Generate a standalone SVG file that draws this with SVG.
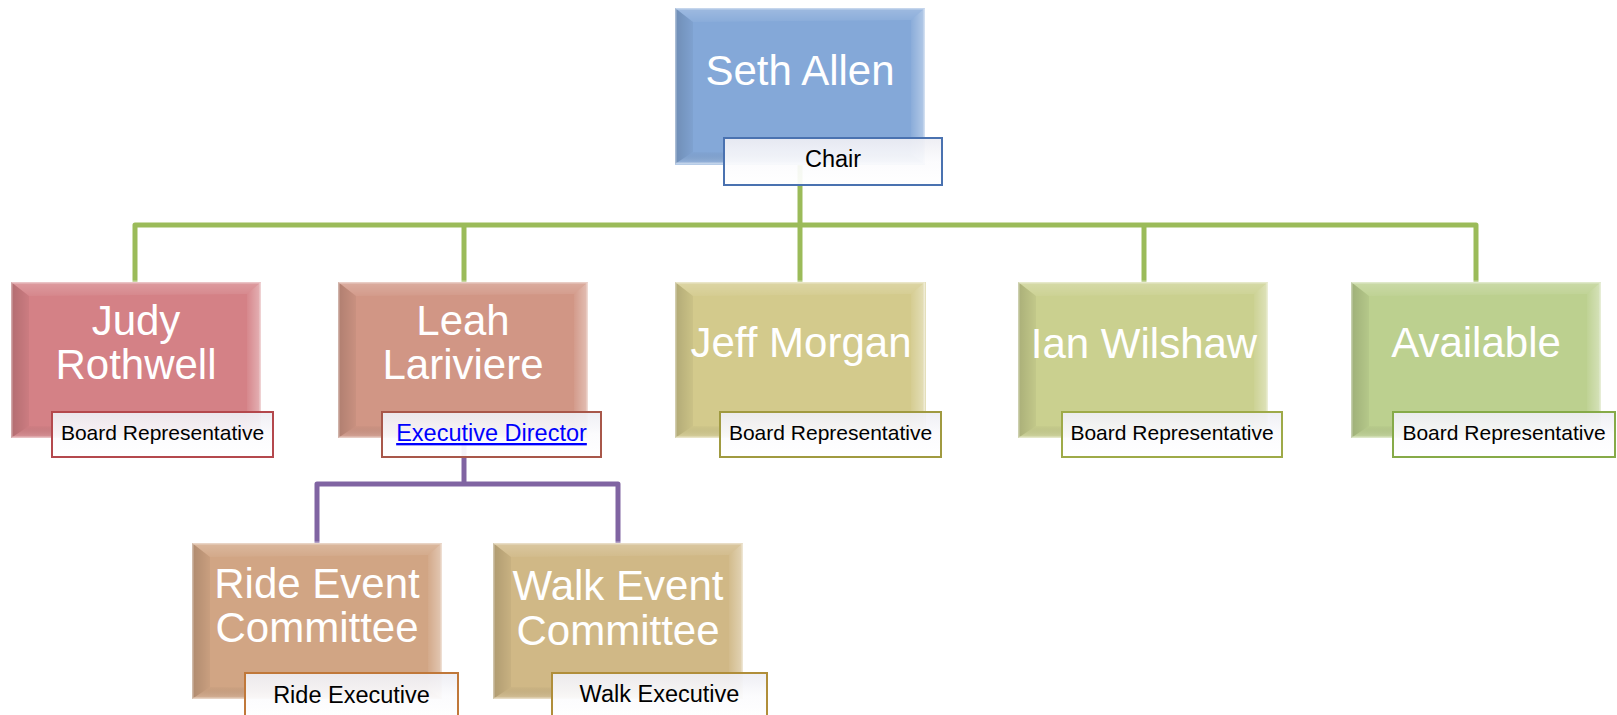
<svg xmlns="http://www.w3.org/2000/svg" xmlns:xlink="http://www.w3.org/1999/xlink" width="1617" height="715" viewBox="0 0 1617 715">
<style>
.nm{font-family:"Liberation Sans",Arial,sans-serif;font-size:42px;fill:#fff;text-anchor:middle}
.lb{font-family:"Liberation Sans",Arial,sans-serif;font-size:23.5px;fill:#000;text-anchor:middle}
.br{font-size:21px}
.lnk{fill:#0000FF;text-decoration:underline}
.lab{fill:url(#gLab);fill-opacity:0.93;stroke-width:2}
.gc{fill:none;stroke:#9BBB59;stroke-width:5;stroke-linejoin:round}
.pc{fill:none;stroke:#8064A2;stroke-width:5;stroke-linejoin:round}
</style>
<defs>
<linearGradient id="gL" x1="0" y1="0" x2="1" y2="0"><stop offset="0" stop-color="#000" stop-opacity="0.16"/><stop offset="1" stop-color="#000" stop-opacity="0.04"/></linearGradient>
<linearGradient id="gR" x1="0" y1="0" x2="1" y2="0"><stop offset="0" stop-color="#fff" stop-opacity="0.05"/><stop offset="1" stop-color="#fff" stop-opacity="0.4"/></linearGradient>
<linearGradient id="gT" x1="0" y1="0" x2="0" y2="1"><stop offset="0" stop-color="#fff" stop-opacity="0.22"/><stop offset="1" stop-color="#fff" stop-opacity="0.05"/></linearGradient>
<linearGradient id="gB" x1="0" y1="0" x2="0" y2="1"><stop offset="0" stop-color="#000" stop-opacity="0.02"/><stop offset="1" stop-color="#fff" stop-opacity="0.2"/></linearGradient>
<linearGradient id="gLab" x1="0" y1="0" x2="0" y2="1"><stop offset="0" stop-color="#EDEDF3"/><stop offset="0.5" stop-color="#FBFBFD"/><stop offset="1" stop-color="#FFFFFF"/></linearGradient>
<g id="bevel">
<polygon points="0,0 250,0 236,12 18,14" fill="url(#gT)"/>
<polygon points="0,0 18,14 18,144 0,156" fill="url(#gL)"/>
<polygon points="250,0 250,156 236,146 236,12" fill="url(#gR)"/>
<polygon points="0,156 18,144 236,146 250,156" fill="url(#gB)"/>
<rect x="0" y="0" width="250" height="156" fill="none" stroke="#fff" stroke-opacity="0.4" stroke-width="3"/>
</g>
</defs>
<rect width="1617" height="715" fill="#fff"/>
<g id="connectors">
<path class="gc" d="M135,282 V225 H1476 V282"/>
<path class="gc" d="M800,165 V282"/>
<path class="gc" d="M464,225 V282"/>
<path class="gc" d="M1144,225 V282"/>
<path class="pc" d="M464,440 V484"/>
<path class="pc" d="M317,543 V484 H618 V543"/>
</g>
<g id="seth">
<rect x="675" y="8" width="250" height="157" fill="#84A8D8"/>
<use href="#bevel" x="675" y="8"/>
<text class="nm" x="800" y="85">Seth Allen</text>
<rect class="lab" x="724" y="138" width="218" height="47" stroke="#4A72B0"/>
<text class="lb" x="833" y="167">Chair</text>
</g>
<g id="judy">
<rect x="11" y="282" width="250" height="156" fill="#D48186"/>
<use href="#bevel" x="11" y="282"/>
<text class="nm" x="136" y="335">Judy</text>
<text class="nm" x="136" y="379">Rothwell</text>
<rect class="lab" x="52" y="412" width="221" height="45" stroke="#B4484D"/>
<text class="lb br" x="162.5" y="440">Board Representative</text>
</g>
<g id="leah">
<rect x="338" y="282" width="250" height="156" fill="#D19685"/>
<use href="#bevel" x="338" y="282"/>
<text class="nm" x="463" y="335">Leah</text>
<text class="nm" x="463" y="379">Lariviere</text>
<rect class="lab" x="382" y="412" width="219" height="45" stroke="#A8574A"/>
<text class="lb lnk" x="491.5" y="441">Executive Director</text>
</g>
<g id="jeff">
<rect x="675" y="282" width="251" height="156" fill="#D3CA8C"/>
<use href="#bevel" x="675" y="282"/>
<text class="nm" x="801" y="357">Jeff Morgan</text>
<rect class="lab" x="720" y="412" width="221" height="45" stroke="#A09A40"/>
<text class="lb br" x="830.5" y="440">Board Representative</text>
</g>
<g id="ian">
<rect x="1018" y="282" width="250" height="156" fill="#CAD08F"/>
<use href="#bevel" x="1018" y="282"/>
<text class="nm" x="1144" y="358">Ian Wilshaw</text>
<rect class="lab" x="1062" y="412" width="220" height="45" stroke="#9EAA48"/>
<text class="lb br" x="1172" y="440">Board Representative</text>
</g>
<g id="available">
<rect x="1351" y="282" width="250" height="156" fill="#BCD08F"/>
<use href="#bevel" x="1351" y="282"/>
<text class="nm" x="1476" y="357">Available</text>
<rect class="lab" x="1393" y="412" width="222" height="45" stroke="#86AA48"/>
<text class="lb br" x="1504" y="440">Board Representative</text>
</g>
<g id="ride">
<rect x="192" y="543" width="250" height="156" fill="#D1A584"/>
<use href="#bevel" x="192" y="543"/>
<text class="nm" x="317" y="598">Ride Event</text>
<text class="nm" x="317" y="642">Committee</text>
<rect class="lab" x="245" y="673" width="213" height="45" stroke="#C0783A"/>
<text class="lb" x="351.5" y="703">Ride Executive</text>
</g>
<g id="walk">
<rect x="493" y="543" width="250" height="156" fill="#D0B886"/>
<use href="#bevel" x="493" y="543"/>
<text class="nm" x="618" y="600">Walk Event</text>
<text class="nm" x="618" y="645">Committee</text>
<rect class="lab" x="552" y="673" width="215" height="45" stroke="#B08E3A"/>
<text class="lb" x="659.5" y="702">Walk Executive</text>
</g>
</svg>
